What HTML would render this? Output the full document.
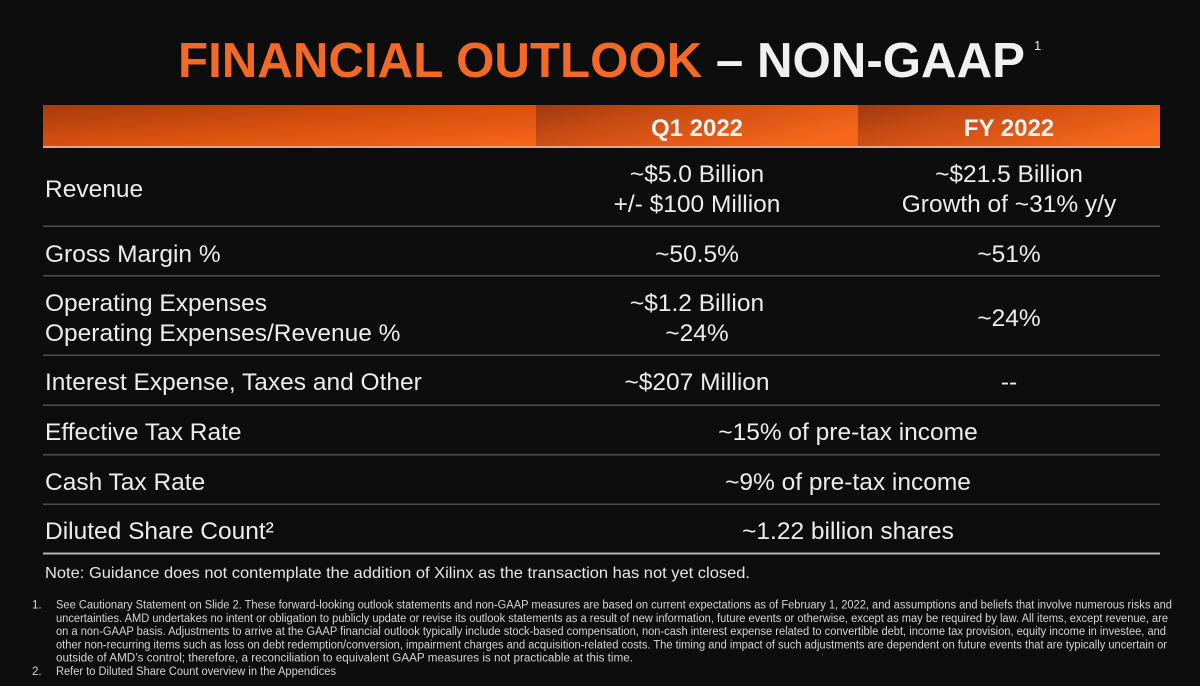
<!DOCTYPE html>
<html>
<head>
<meta charset="utf-8">
<style>
  html,body{margin:0;padding:0;background:#0d0d0d;}
  svg{display:block;}
  text{font-family:"Liberation Sans", Arial, sans-serif;}
</style>
</head>
<body>
<svg width="1200" height="686" viewBox="0 0 1200 686" xmlns="http://www.w3.org/2000/svg">
  <defs>
    <linearGradient id="g1" x1="0" y1="0" x2="1" y2="1">
      <stop offset="0" stop-color="#a63b0e"/>
      <stop offset="0.5" stop-color="#d9500f"/>
      <stop offset="1" stop-color="#f7661a"/>
    </linearGradient>
    <linearGradient id="g2" x1="0" y1="0" x2="1" y2="0.6">
      <stop offset="0" stop-color="#9e3a10"/>
      <stop offset="0.35" stop-color="#c84b14"/>
      <stop offset="1" stop-color="#f5661b"/>
    </linearGradient>
  </defs>
  <rect x="0" y="0" width="1200" height="686" fill="#0d0d0d"/>

  <!-- Title -->
  <text x="178" y="77" font-size="49" font-weight="bold" fill="#f26a25" textLength="847" lengthAdjust="spacingAndGlyphs">FINANCIAL OUTLOOK <tspan fill="#f0f0f0">– NON-GAAP</tspan></text>
  <text x="1034" y="50" font-size="13" fill="#e8e8e8">1</text>

  <!-- Header bar -->
  <rect x="43" y="105" width="493" height="41" fill="url(#g1)"/>
  <rect x="536" y="105" width="322" height="41" fill="url(#g2)"/>
  <rect x="858" y="105" width="302" height="41" fill="url(#g2)"/>
  <rect x="43" y="146" width="1117" height="2" fill="#e0a882"/>
  <text x="697" y="136" font-size="24" font-weight="bold" fill="#f2f2f2" text-anchor="middle">Q1 2022</text>
  <text x="1009" y="136" font-size="24" font-weight="bold" fill="#f2f2f2" text-anchor="middle">FY 2022</text>

  <!-- Row separators -->
  <g fill="#4e4e4e">
    <rect x="43" y="225.5" width="1117" height="1.5"/>
    <rect x="43" y="275" width="1117" height="1.5"/>
    <rect x="43" y="354.5" width="1117" height="1.5"/>
    <rect x="43" y="404.5" width="1117" height="1.5"/>
    <rect x="43" y="454" width="1117" height="1.5"/>
    <rect x="43" y="503.5" width="1117" height="1.5"/>
  </g>
  <rect x="43" y="552.5" width="1117" height="2" fill="#b4b4b4"/>

  <!-- Row text -->
  <g font-size="24.5" fill="#ececec">
    <text x="45" y="197">Revenue</text>
    <text x="697" y="182" text-anchor="middle">~$5.0 Billion</text>
    <text x="697" y="212" text-anchor="middle">+/- $100 Million</text>
    <text x="1009" y="182" text-anchor="middle">~$21.5 Billion</text>
    <text x="1009" y="212" text-anchor="middle">Growth of ~31% y/y</text>

    <text x="45" y="262">Gross Margin %</text>
    <text x="697" y="262" text-anchor="middle">~50.5%</text>
    <text x="1009" y="262" text-anchor="middle">~51%</text>

    <text x="45" y="311">Operating Expenses</text>
    <text x="45" y="341">Operating Expenses/Revenue %</text>
    <text x="697" y="311" text-anchor="middle">~$1.2 Billion</text>
    <text x="697" y="341" text-anchor="middle">~24%</text>
    <text x="1009" y="326" text-anchor="middle">~24%</text>

    <text x="45" y="390">Interest Expense, Taxes and Other</text>
    <text x="697" y="390" text-anchor="middle">~$207 Million</text>
    <text x="1009" y="390" text-anchor="middle">--</text>

    <text x="45" y="440">Effective Tax Rate</text>
    <text x="848" y="440" text-anchor="middle">~15% of pre-tax income</text>

    <text x="45" y="490">Cash Tax Rate</text>
    <text x="848" y="490" text-anchor="middle">~9% of pre-tax income</text>

    <text x="45" y="539">Diluted Share Count²</text>
    <text x="848" y="539" text-anchor="middle">~1.22 billion shares</text>
  </g>

  <!-- Note -->
  <text x="45" y="578" font-size="16" fill="#e6e6e6" textLength="705" lengthAdjust="spacingAndGlyphs">Note: Guidance does not contemplate the addition of Xilinx as the transaction has not yet closed.</text>

  <!-- Footnotes -->
  <g font-size="11.5" fill="#d4d4d4">
    <text x="32" y="608.5">1.</text>
    <text x="56" y="608.5" textLength="1116" lengthAdjust="spacingAndGlyphs">See Cautionary Statement on Slide 2. These forward-looking outlook statements and non-GAAP measures are based on current expectations as of February 1, 2022, and assumptions and beliefs that involve numerous risks and</text>
    <text x="56" y="621.8" textLength="1112" lengthAdjust="spacingAndGlyphs">uncertainties. AMD undertakes no intent or obligation to publicly update or revise its outlook statements as a result of new information, future events or otherwise, except as may be required by law. All items, except revenue, are</text>
    <text x="56" y="635.1" textLength="1110" lengthAdjust="spacingAndGlyphs">on a non-GAAP basis. Adjustments to arrive at the GAAP financial outlook typically include stock-based compensation, non-cash interest expense related to convertible debt, income tax provision, equity income in investee, and</text>
    <text x="56" y="648.4" textLength="1111" lengthAdjust="spacingAndGlyphs">other non-recurring items such as loss on debt redemption/conversion, impairment charges and acquisition-related costs. The timing and impact of such adjustments are dependent on future events that are typically uncertain or</text>
    <text x="56" y="661.7" textLength="577" lengthAdjust="spacingAndGlyphs">outside of AMD’s control; therefore, a reconciliation to equivalent GAAP measures is not practicable at this time.</text>
    <text x="32" y="675">2.</text>
    <text x="56" y="675" textLength="280" lengthAdjust="spacingAndGlyphs">Refer to Diluted Share Count overview in the Appendices</text>
  </g>
</svg>
</body>
</html>
